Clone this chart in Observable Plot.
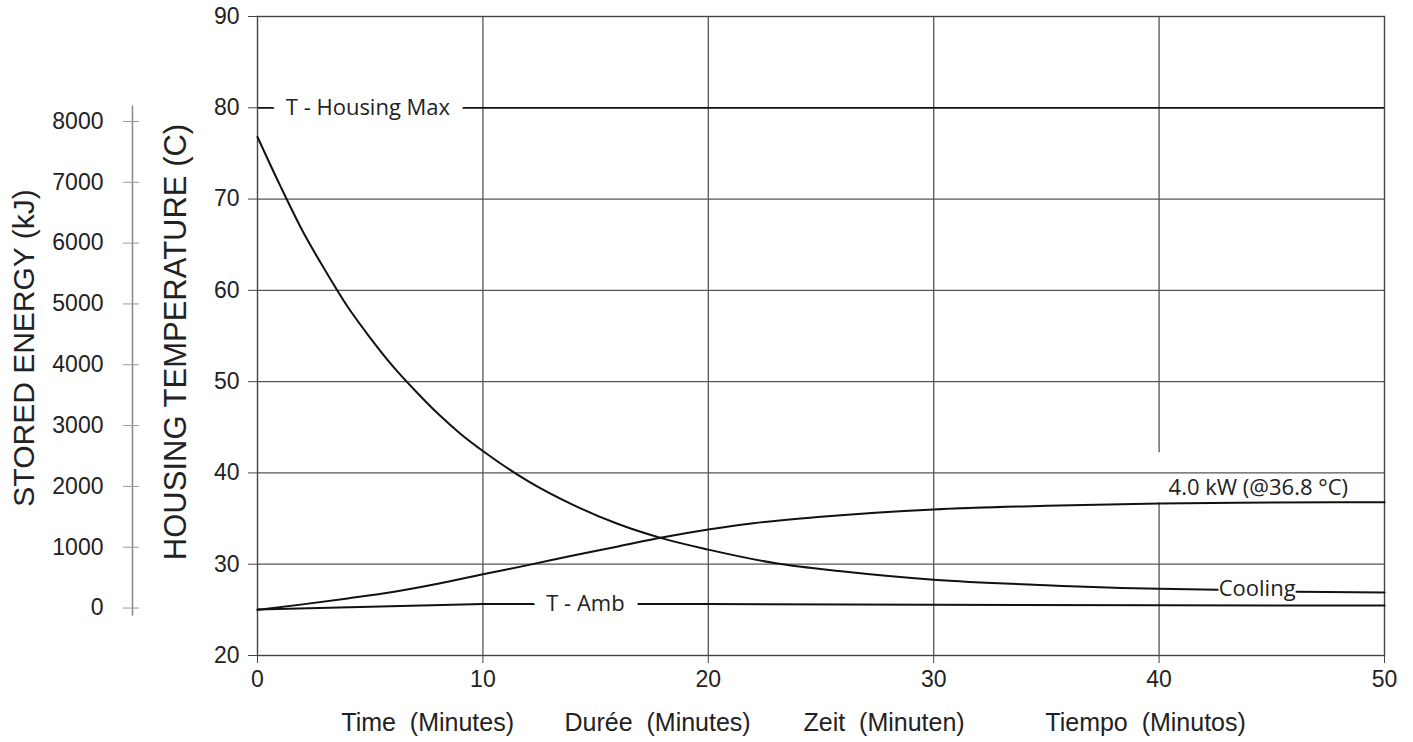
<!DOCTYPE html>
<html><head><meta charset="utf-8">
<script src="https://cdn.jsdelivr.net/npm/d3@7"></script>
<script src="https://cdn.jsdelivr.net/npm/@observablehq/plot@0.6"></script>
<style>
body{margin:0;background:#fff;}
#chart svg{display:block;}
</style></head><body><div id="chart"></div>
<script>
// ---- data ----
const xTicks = [0, 10, 20, 30, 40, 50];
const yTicks = [20, 30, 40, 50, 60, 70, 80, 90];
const energyTicks = [0, 1000, 2000, 3000, 4000, 5000, 6000, 7000, 8000];
// energy axis calibration: 0 kJ sits at 25.2 °C, 8000 kJ at 78.5 °C on the temperature scale
const energyAxisTemp0 = 25.2, energyAxisTemp8000 = 78.5;

const coolTime = [0, 1, 2, 3, 4, 5, 6, 7, 8, 9, 10, 12, 14, 16, 18, 20, 23, 26, 30, 35, 40, 42.6, 46.1, 50];
const coolTemp = [76.8, 71.5, 66.5, 62.2, 58.2, 54.8, 51.7, 49.0, 46.5, 44.3, 42.4, 39.1, 36.5, 34.4, 32.8, 31.6, 30.1, 29.2, 28.3, 27.7, 27.3, 27.2, 26.97, 26.9];
const coolLabelGap = [42.6, 46.1]; // the "Cooling" label interrupts the curve here

const heatTime = [0, 2, 4, 6, 8, 10, 12, 14, 16, 18, 20, 22, 25, 30, 35, 40, 45, 50];
const heatTemp = [25.0, 25.6, 26.25, 26.95, 27.85, 28.9, 29.9, 30.95, 31.95, 32.95, 33.8, 34.5, 35.2, 36.0, 36.4, 36.65, 36.75, 36.8];

const ambTime = [0, 5, 10, 20, 30, 40, 50];
const ambTemp = [25.05, 25.35, 25.65, 25.65, 25.55, 25.5, 25.48];

const housingMax = 80;
const gridY = [30, 40, 50, 60, 70];
const gridX = [10, 20, 30];
const gridX40 = [{x: 40, y1: 20, y2: 36.7}, {x: 40, y1: 42.2, y2: 90}];

const lineLabels = ["T - Housing Max", "T - Amb", "Cooling", "4.0 kW (@36.8 °C)"];
const lineLabelT = [4.9, 14.55, 44.35, 44.4];
const lineLabelV = [80, 25.6, 27.3, 38.4];

const xTitles = ["Time\u00a0 (Minutes)", "Durée\u00a0 (Minutes)", "Zeit\u00a0 (Minuten)", "Tiempo\u00a0 (Minutos)"];
const xTitleAt = [7.55, 17.75, 27.8, 39.4];

// ---- build ----
const toTemp = e => energyAxisTemp0 + e * (energyAxisTemp8000 - energyAxisTemp0) / 8000;
const fromTemp = t => (t - energyAxisTemp0) * 8000 / (energyAxisTemp8000 - energyAxisTemp0);
const cooling = coolTime.map((t, i) => ({t, v: coolTemp[i]}));
const heating = heatTime.map((t, i) => ({t, v: heatTemp[i]}));
const ambient = ambTime.map((t, i) => ({t, v: ambTemp[i]}));
const lbl = lineLabels.map((s, i) => ({s, t: lineLabelT[i], v: lineLabelV[i]}));
const titles = xTitles.map((s, i) => ({s, x: xTitleAt[i]}));

const labelFont = "'Open Sans', 'Noto Sans', sans-serif";
const gridColor = "#555";

const plot = Plot.plot({
  width: 1413, height: 742,
  marginLeft: 257, marginRight: 29, marginTop: 16, marginBottom: 87,
  style: {fontFamily: "'Liberation Sans', Arial, sans-serif", background: "#fff", color: "#222"},
  x: {domain: [0, 50]},
  y: {domain: [20, 90]},
  marks: [
    Plot.ruleY(gridY, {stroke: gridColor, strokeWidth: 1.3}),
    Plot.ruleX(gridX, {stroke: gridColor, strokeWidth: 1.3}),
    Plot.ruleX(gridX40, {x: "x", y1: "y1", y2: "y2", stroke: gridColor, strokeWidth: 1.3}),
    Plot.ruleY([housingMax], {stroke: "#111", strokeWidth: 1.8}),
    Plot.frame({stroke: "#444", strokeWidth: 1.4}),
    Plot.axisY(yTicks, {anchor: "left", tickSize: 9, tickPadding: 9, fontSize: 23, label: null, stroke: "#444", fill: "#222"}),
    Plot.axisX(xTicks, {anchor: "bottom", tickSize: 8, tickPadding: 7, fontSize: 23, label: null, stroke: "#444", fill: "#222"}),
    // secondary (energy) axis
    Plot.ruleX([0], {y1: 24.3, y2: 80.2, dx: -125, stroke: "#888", strokeWidth: 1.5}),
    Plot.axisY(energyTicks.map(toTemp), {anchor: "left", dx: -118, tickSize: 16, tickPadding: 20, fontSize: 23,
      tickFormat: d => String(Math.round(fromTemp(d))), label: null, stroke: "#999", fill: "#222"}),
    // curves
    Plot.line(ambient, {x: "t", y: "v", stroke: "#111", strokeWidth: 2}),
    Plot.line(heating, {x: "t", y: "v", curve: "monotone-x", stroke: "#111", strokeWidth: 2}),
    Plot.line(cooling.filter(d => d.t <= coolLabelGap[0]), {x: "t", y: "v", curve: "monotone-x", stroke: "#111", strokeWidth: 2}),
    Plot.line(cooling.filter(d => d.t >= coolLabelGap[1]), {x: "t", y: "v", curve: "monotone-x", stroke: "#111", strokeWidth: 2}),
    // in-line labels (white halo cuts the line)
    Plot.text(lbl.slice(0, 2), {x: "t", y: "v", text: "s", fontFamily: labelFont, fontSize: 22, fill: "#222", stroke: "white", strokeWidth: 28}),
    Plot.text(lbl.slice(2, 4), {x: "t", y: "v", text: "s", fontFamily: labelFont, fontSize: 22, fill: "#222"}),
    // axis titles
    Plot.text(["STORED ENERGY (kJ)"], {text: d => d, frameAnchor: "left", textAnchor: "middle", lineAnchor: "middle", dx: -233, dy: 12, rotate: -90, fontSize: 30, fill: "#222"}),
    Plot.text(["HOUSING TEMPERATURE (C)"], {text: d => d, frameAnchor: "left", textAnchor: "middle", lineAnchor: "middle", dx: -81, dy: 6, rotate: -90, fontSize: 31, fill: "#222"}),
    Plot.text(titles, {x: "x", text: "s", frameAnchor: "bottom", lineAnchor: "middle", dy: 67, fontSize: 25, fill: "#222"})
  ]
});
document.getElementById("chart").append(plot);
</script></body></html>
